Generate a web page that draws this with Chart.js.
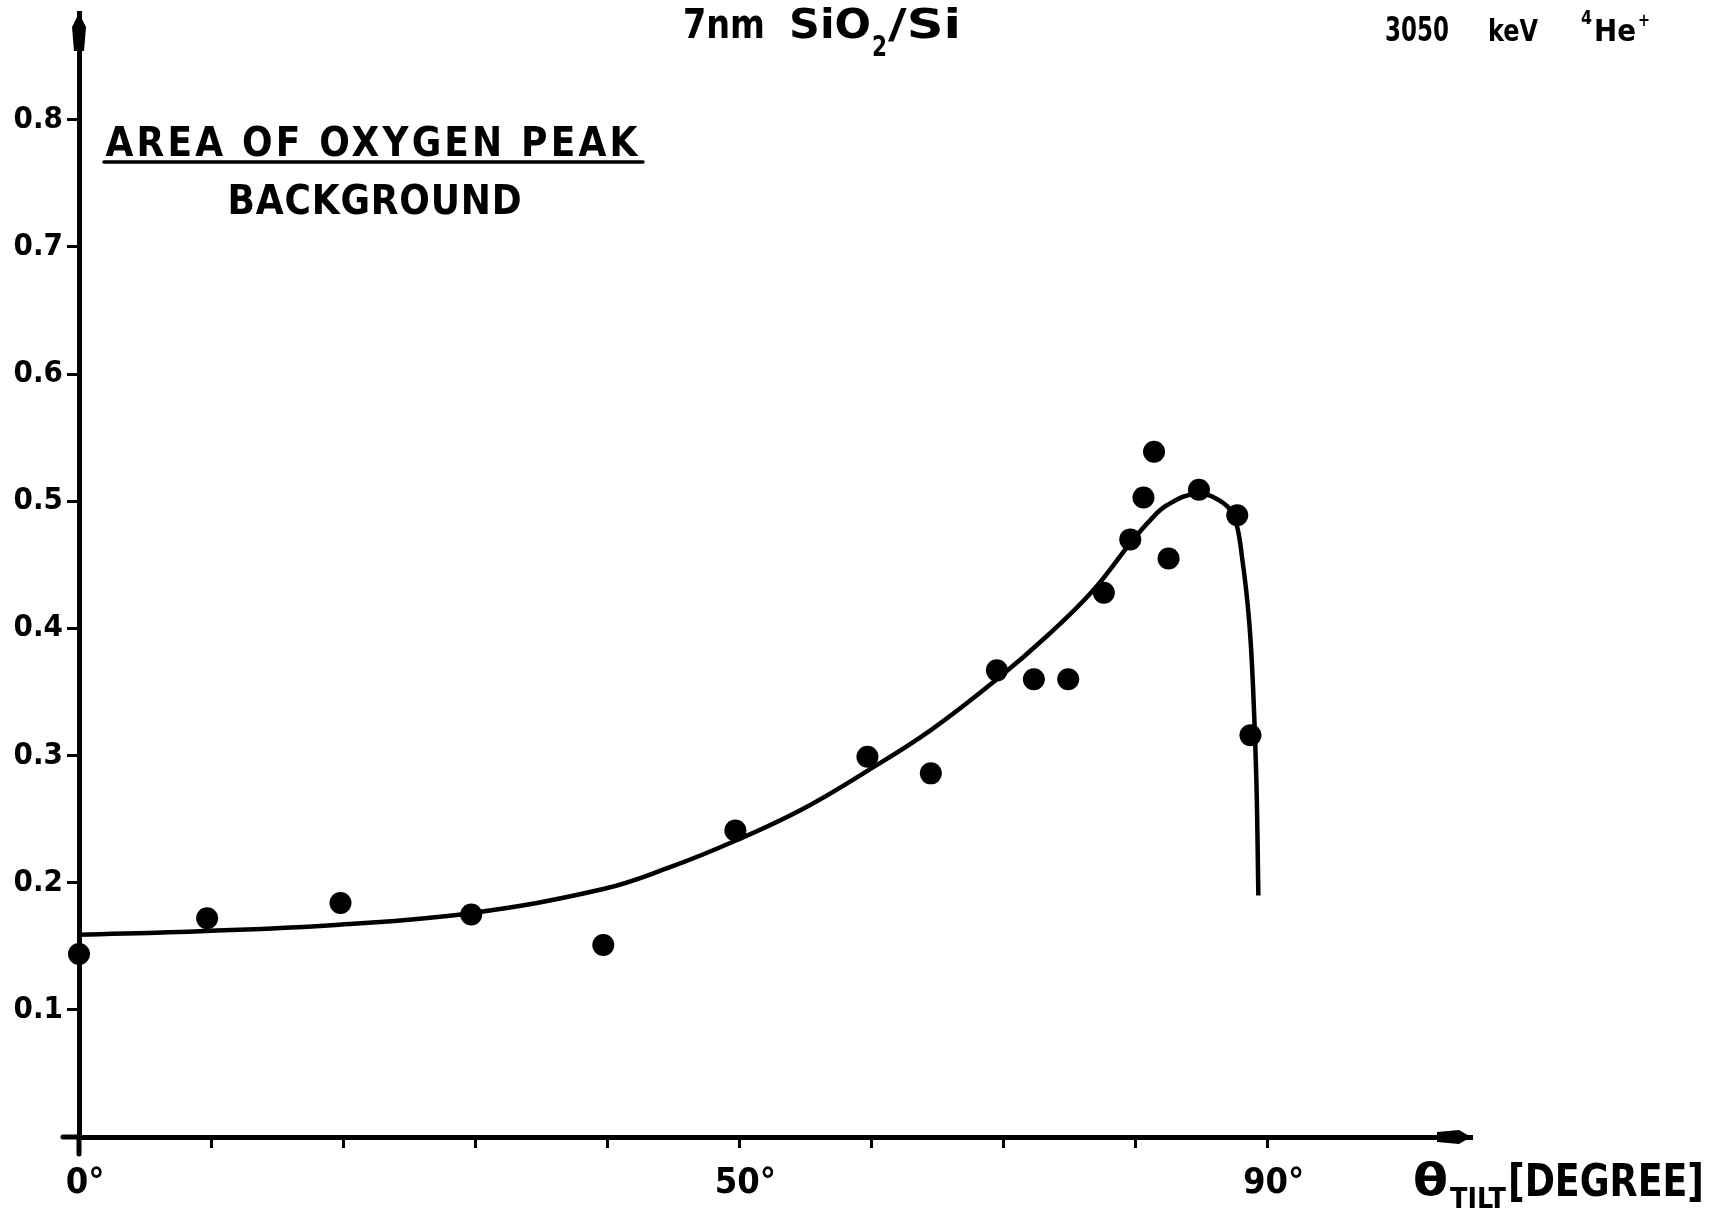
<!DOCTYPE html>
<html>
<head>
<meta charset="utf-8">
<script src="https://cdn.jsdelivr.net/npm/chart.js@4"></script>
<style>
  body { margin: 0; background: #fff; }
  #wrap { width: 1713px; height: 1215px; position: relative; }
</style>
</head>
<body>
<div id="wrap"><canvas id="tilt-chart"></canvas></div>
<script>
// measured points (tilt angle in degree, area of O peak / background)
const tiltAngles = [0, 9.7, 19.8, 29.7, 39.7, 49.7, 59.7, 64.5, 69.5, 72.3, 74.9, 77.6, 79.6, 80.6, 81.4, 82.5, 84.8, 87.7, 88.7];
const oxygenRatio = [0.144, 0.172, 0.184, 0.175, 0.151, 0.241, 0.299, 0.286, 0.367, 0.360, 0.360, 0.428, 0.470, 0.503, 0.539, 0.455, 0.509, 0.489, 0.316];

// hand drawn fit curve
const curveAngles = [0, 9.6, 19.7, 29.6, 39.7, 44.7, 49.7, 54.8, 59.7, 64.5, 69.5, 73.4, 76.8, 79.6, 81.1, 82.4, 84.7, 86.6, 87.5, 88.1, 88.6, 88.9, 89.15, 89.3];
const curveRatio = [0.159, 0.162, 0.167, 0.176, 0.195, 0.212, 0.233, 0.258, 0.288, 0.320, 0.360, 0.395, 0.430, 0.467, 0.485, 0.497, 0.506, 0.499, 0.487, 0.453, 0.406, 0.353, 0.280, 0.190];

// axes
const xTickValues = [0, 10, 20, 30, 40, 50, 60, 70, 80, 90];
const xTickLabels = { 0: '0°', 50: '50°', 90: '90°' };
const yTickValues = [0.1, 0.2, 0.3, 0.4, 0.5, 0.6, 0.7, 0.8];
const xMax = 105.4;
const yMax = 0.884;

const FONT = "'DejaVu Sans Condensed', 'DejaVu Sans', sans-serif";

// text spread out with letter spacing to a given width
function spreadText(ctx, s, x, y, width, size, align) {
  ctx.font = 'bold ' + size + 'px ' + FONT;
  ctx.letterSpacing = '0px';
  const w = ctx.measureText(s).width;
  ctx.letterSpacing = ((width - w) / s.length) + 'px';
  const left = align === 'center' ? x - width / 2 : x;
  ctx.textAlign = 'left';
  ctx.fillText(s, left, y);
  ctx.letterSpacing = '0px';
}

// text squeezed/stretched horizontally to a given width (stencil lettering is tall and narrow)
function fitText(ctx, s, left, y, width, size) {
  ctx.font = 'bold ' + size + 'px ' + FONT;
  ctx.textAlign = 'left';
  const w = ctx.measureText(s).width;
  ctx.save();
  ctx.translate(left, y);
  ctx.scale(width / w, 1);
  ctx.fillText(s, 0, 0);
  ctx.restore();
}

const decorations = {
  id: 'decorations',
  afterDraw(chart) {
    const ctx = chart.ctx;
    const xs = chart.scales.x, ys = chart.scales.y;
    const x0 = xs.getPixelForValue(0), y0 = ys.getPixelForValue(0);
    const xEnd = xs.getPixelForValue(xMax), yTop = ys.getPixelForValue(yMax);
    ctx.save();
    ctx.fillStyle = '#000';
    ctx.strokeStyle = '#000';
    ctx.lineCap = 'round';

    // axis stubs past the origin
    ctx.lineWidth = 5;
    ctx.beginPath();
    ctx.moveTo(x0, y0); ctx.lineTo(x0, y0 + 17);
    ctx.moveTo(x0 - 16, y0); ctx.lineTo(x0, y0);
    ctx.stroke();

    // arrow heads
    ctx.beginPath();
    ctx.moveTo(x0, yTop);
    ctx.lineTo(x0 + 7, yTop + 14);
    ctx.lineTo(x0 + 5, yTop + 38);
    ctx.lineTo(x0 - 5, yTop + 38);
    ctx.lineTo(x0 - 7, yTop + 14);
    ctx.closePath();
    ctx.fill();
    ctx.beginPath();
    ctx.moveTo(xEnd, y0);
    ctx.lineTo(xEnd - 12, y0 + 7);
    ctx.lineTo(xEnd - 34, y0 + 5);
    ctx.lineTo(xEnd - 34, y0 - 5);
    ctx.lineTo(xEnd - 12, y0 - 7);
    ctx.closePath();
    ctx.fill();

    ctx.textBaseline = 'alphabetic';

    // title: 7nm SiO2/Si
    fitText(ctx, '7nm', 683, 38, 82, 40);
    fitText(ctx, 'SiO', 789, 38, 82, 40);
    fitText(ctx, '2', 872, 56, 15, 28);
    fitText(ctx, '/Si', 888, 38, 73, 40);

    // beam: 3050 keV 4He+
    fitText(ctx, '3050', 1385, 41, 64, 33);
    fitText(ctx, 'keV', 1488, 41, 50, 30);
    fitText(ctx, '4', 1581, 24, 11, 20);
    fitText(ctx, 'He', 1594, 41, 42, 30);
    fitText(ctx, '+', 1638, 26, 12, 18);

    // y label written as a fraction
    spreadText(ctx, 'AREA OF OXYGEN PEAK', 373, 156, 535, 40, 'center');
    ctx.lineWidth = 3.5;
    ctx.beginPath();
    ctx.moveTo(104, 162); ctx.lineTo(643, 162);
    ctx.stroke();
    spreadText(ctx, 'BACKGROUND', 375, 214, 295, 40, 'center');

    // x label
    fitText(ctx, 'θ', 1413, 1195, 35, 44);
    fitText(ctx, 'TILT', 1450, 1208, 56, 28);
    fitText(ctx, '[DEGREE]', 1508, 1196, 196, 44);
    ctx.restore();
  }
};

const ctx = document.getElementById('tilt-chart').getContext('2d');
new Chart(ctx, {
  type: 'scatter',
  data: {
    datasets: [{
      label: 'fit',
      data: curveAngles.map((a, i) => ({ x: a, y: curveRatio[i] })),
      showLine: true,
      borderColor: '#000',
      borderWidth: 4.5,
      pointRadius: 0,
      tension: 0.4,
      fill: false
    }, {
      label: 'measured',
      data: tiltAngles.map((a, i) => ({ x: a, y: oxygenRatio[i] })),
      backgroundColor: '#000',
      borderWidth: 0,
      pointRadius: 11,
      clip: false
    }]
  },
  options: {
    responsive: true,
    maintainAspectRatio: false,
    animation: false,
    layout: { padding: { top: 13, right: 242, bottom: 0, left: 0 } },
    scales: {
      x: {
        type: 'linear',
        min: 0,
        max: xMax,
        border: { color: '#000', width: 5 },
        grid: { drawOnChartArea: false, drawTicks: true, tickLength: 11, color: '#000', lineWidth: 3 },
        ticks: {
          color: '#000',
          padding: 14,
          labelOffset: 6,
          autoSkip: false,
          maxRotation: 0,
          font: { family: FONT, size: 36, weight: 'bold' },
          callback: v => xTickLabels[v] || ''
        },
        afterBuildTicks: s => { s.ticks = xTickValues.map(v => ({ value: v })); },
        afterFit: s => { s.height = 78; s.paddingLeft = 0; s.paddingRight = 0; }
      },
      y: {
        type: 'linear',
        min: 0,
        max: yMax,
        border: { color: '#000', width: 5 },
        grid: { drawOnChartArea: false, drawTicks: true, tickLength: 12, color: '#000', lineWidth: 3 },
        ticks: {
          color: '#000',
          padding: 4,
          font: { family: FONT, size: 31, weight: 'bold' },
          callback: v => v.toFixed(1)
        },
        afterBuildTicks: s => { s.ticks = yTickValues.map(v => ({ value: v })); },
        afterFit: s => { s.width = 79; s.paddingTop = 0; s.paddingBottom = 0; }
      }
    },
    plugins: {
      legend: { display: false },
      tooltip: { enabled: false }
    }
  },
  plugins: [decorations]
});
</script>
</body>
</html>
